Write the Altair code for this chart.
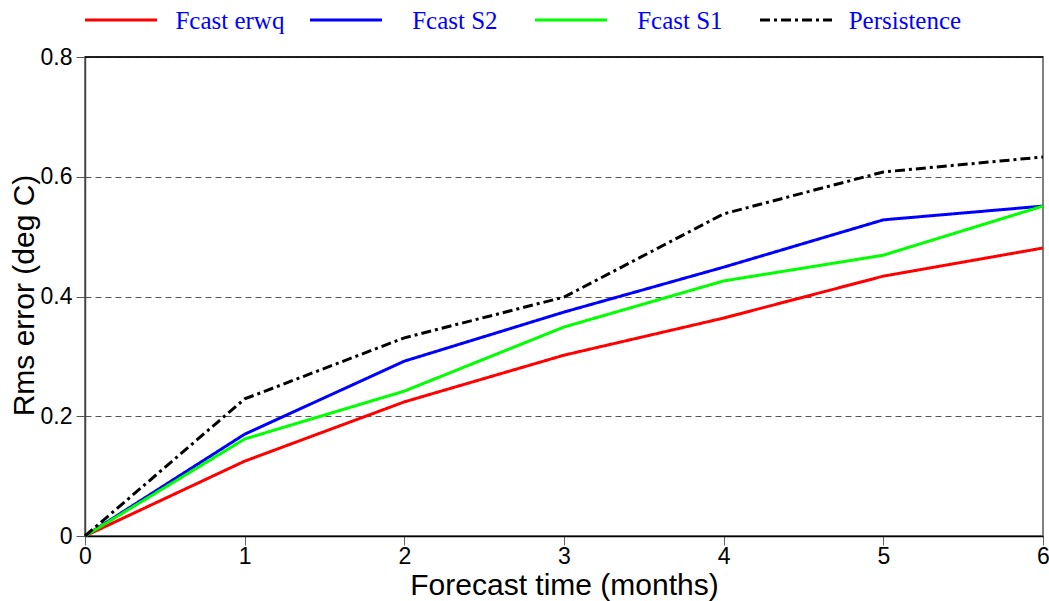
import altair as alt
import pandas as pd

months = [0, 1, 2, 3, 4, 5, 6]
fcast_erwq = [0.0, 0.125, 0.224, 0.302, 0.364, 0.434, 0.481]
fcast_s2 = [0.0, 0.170, 0.292, 0.374, 0.449, 0.528, 0.551]
fcast_s1 = [0.0, 0.162, 0.242, 0.349, 0.426, 0.469, 0.551]
persistence = [0.0, 0.229, 0.331, 0.399, 0.538, 0.608, 0.633]

series_names = ["Fcast erwq", "Fcast S2", "Fcast S1", "Persistence"]
series_colors = ["#ff0000", "#0000ff", "#00ff00", "#000000"]
series_dash = [[1, 0], [1, 0], [1, 0], [10, 4, 3, 4]]
y_ticks = [0, 0.2, 0.4, 0.6, 0.8]

rows = []
for name, vals in zip(series_names, [fcast_erwq, fcast_s2, fcast_s1, persistence]):
    for m, v in zip(months, vals):
        rows.append({"month": m, "rms": v, "series": name})
df = pd.DataFrame(rows)

color_scale = alt.Scale(domain=series_names, range=series_colors)
dash_scale = alt.Scale(domain=series_names, range=series_dash)

x_enc = alt.X("month:Q", scale=alt.Scale(domain=[0, 6], nice=False),
              axis=alt.Axis(values=months, format="d", title="Forecast time (months)",
                            grid=False, tickSize=9, tickColor="#666666", domainColor="#000000",
                            domainWidth=1.5, labelPadding=0, labelFlush=False, titleY=58,
                            titleBaseline="alphabetic"))
y_enc = alt.Y("rms:Q", scale=alt.Scale(domain=[0, 0.8], nice=False),
              axis=alt.Axis(values=y_ticks, title="Rms error (deg C)",
                            labelExpr="datum.value == 0 ? '0' : format(datum.value, '.1f')",
                            grid=True, gridDash=[6, 4], gridColor="#555555", gridWidth=1,
                            tickSize=9, tickColor="#555555", domainColor="#444444",
                            domainWidth=1.5, labelPadding=4, labelFlush=False,
                            titleX=-52, titleY=238, titleAngle=-90,
                            titleAlign="center", titleBaseline="alphabetic"))

layers = []
for i, name in enumerate(series_names):
    layers.append(
        alt.Chart(df).transform_filter(alt.datum.series == name)
        .mark_line(strokeWidth=3)
        .encode(
            x=x_enc if i == 0 else alt.X("month:Q"),
            y=y_enc if i == 0 else alt.Y("rms:Q"),
            color=alt.Color("series:N", scale=color_scale, legend=None),
            strokeDash=alt.StrokeDash("series:N", scale=dash_scale, legend=None),
        )
    )

top_border = alt.Chart(pd.DataFrame({"v": [0.8]})).mark_rule(
    color="#000000", strokeWidth=1.5).encode(y=alt.Y("v:Q"))

# manual legend above the plot
leg_step = 225.0
leg_units = 958.0 / leg_step
leg_df = pd.DataFrame({
    "series": series_names,
    "start": [i for i in range(len(series_names))],
    "end": [i + 0.32 for i in range(len(series_names))],
    "mid": [i + 0.644 for i in range(len(series_names))],
})
leg_x = alt.Scale(domain=[0, leg_units], nice=False, zero=True)
leg_lines = alt.Chart(leg_df).mark_rule(strokeWidth=3).encode(
    x=alt.X("start:Q", scale=leg_x, axis=None),
    x2="end:Q",
    y=alt.value(-37),
    color=alt.Color("series:N", scale=color_scale, legend=None),
    strokeDash=alt.StrokeDash("series:N", scale=dash_scale, legend=None),
)
leg_text = alt.Chart(leg_df).mark_text(
    font="Liberation Serif", fontSize=25, color="#0000ff", align="center",
    baseline="middle").encode(
    x=alt.X("mid:Q", scale=leg_x, axis=None),
    y=alt.value(-36),
    text="series:N",
)
legend = alt.layer(leg_lines, leg_text)

main = alt.layer(*layers, top_border)

chart = alt.layer(main, legend).resolve_scale(x="independent").properties(
    width=958, height=479,
    autosize=alt.AutoSizeParams(type="none"),
    padding={"left": 85, "top": 57, "right": 6, "bottom": 65},
    background="#ffffff",
).configure_view(stroke="#808080", strokeWidth=2).configure_axis(
    labelFont="Liberation Sans", labelFontSize=23, labelColor="#000000",
    titleFont="Liberation Sans", titleFontSize=30, titleFontWeight="normal",
    titleColor="#000000",
)

chart.save("out.html", embed_options={"renderer": "svg", "actions": False})
